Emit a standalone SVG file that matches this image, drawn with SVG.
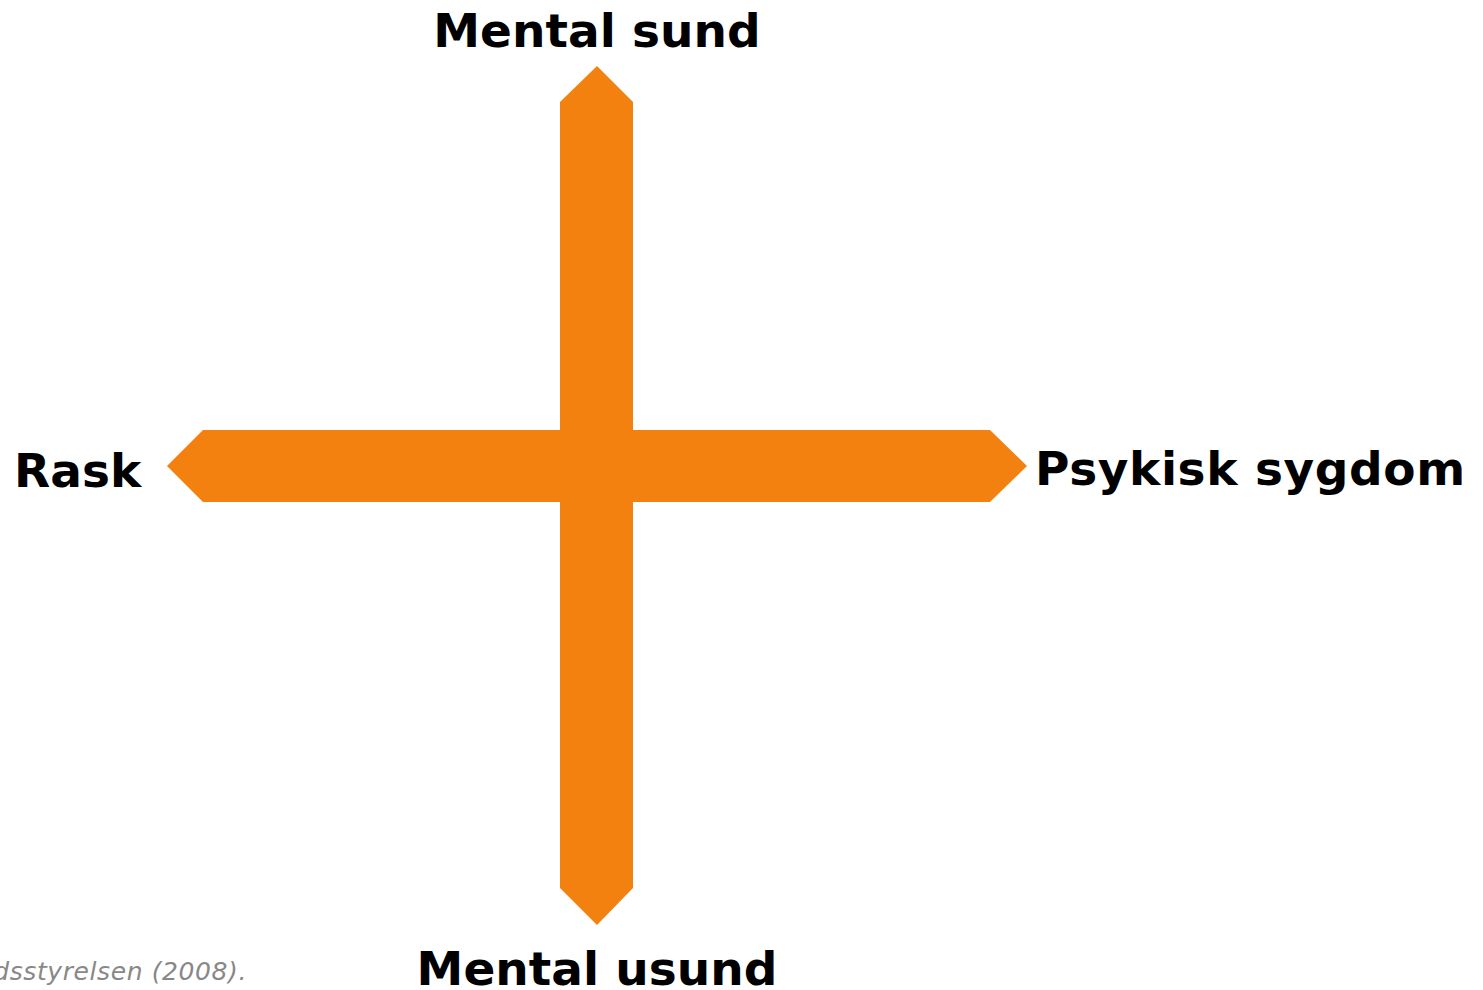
<svg xmlns="http://www.w3.org/2000/svg" width="1483" height="990" viewBox="0 0 1483 990">
<style>
.lbl{font-family:"DejaVu Sans",Verdana,sans-serif;font-weight:bold;font-size:47px;fill:#000}
.arr{fill:#f28110}
.cap{font-family:"DejaVu Sans",Verdana,sans-serif;font-style:italic;font-size:25px;letter-spacing:0.6px;fill:#888}
</style>
<rect width="1483" height="990" fill="#fff"/>
<g id="connectors">
<polygon class="arr" points="597,66 633,102 633,888 597,925 560,888 560,102"/>
<polygon class="arr" points="167,466 203,430 990,430 1027,466 990,502 203,502"/>
</g>
<g id="top"><text class="lbl" x="597" y="47" text-anchor="middle">Mental sund</text></g>
<g id="bottom"><text class="lbl" x="597" y="985" text-anchor="middle">Mental usund</text></g>
<g id="left"><text class="lbl" x="14" y="487">Rask</text></g>
<g id="right"><text class="lbl" x="1035" y="485" letter-spacing="0.6">Psykisk sygdom</text></g>
<g id="caption"><text class="cap" x="247" y="980" text-anchor="end">Sundhedsstyrelsen (2008).</text></g>
</svg>
